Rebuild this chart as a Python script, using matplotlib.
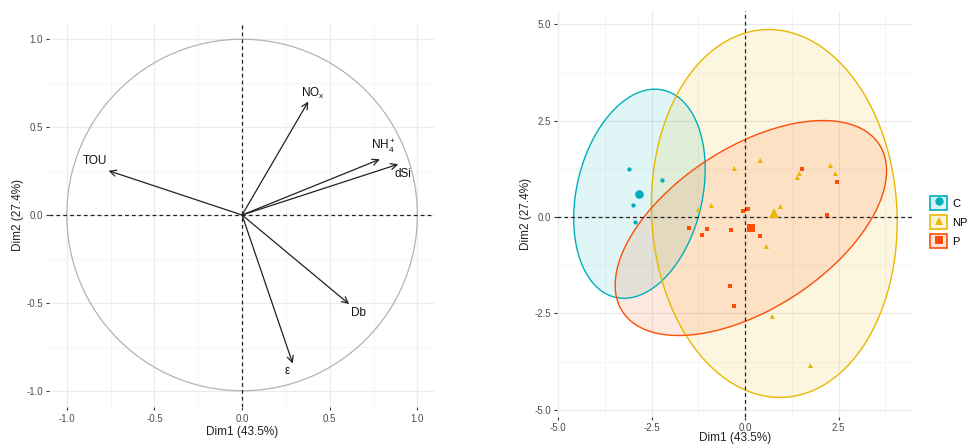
import numpy as np
import matplotlib
matplotlib.use("Agg")
import matplotlib.pyplot as plt
from matplotlib.patches import Polygon, Rectangle, Circle
from matplotlib.lines import Line2D

plt.rcParams['font.family'] = ['Liberation Sans', 'DejaVu Sans']
plt.rcParams['mathtext.default'] = 'regular'

# ---------------- data ----------------
variables = ['TOU', 'NO$_x$', 'NH$_4^+$', 'dSi', 'Db', 'ε']
dim1_load = [-0.762, 0.378, 0.786, 0.891, 0.611, 0.289]
dim2_load = [0.252, 0.646, 0.317, 0.289, -0.507, -0.845]

groups = ['C', 'NP', 'P']
c_x = [-3.11, -2.23, -3.01, -2.95]
c_y = [1.25, 0.97, 0.32, -0.12]
np_x = [0.41, -0.30, 2.26, 2.40, 1.43, 1.39, -0.92, -1.25, 0.92, 0.56, 0.71, 1.74]
np_y = [1.48, 1.28, 1.35, 1.15, 1.15, 1.05, 0.32, 0.22, 0.28, -0.74, -2.58, -3.84]
p_x = [1.53, 2.46, 2.20, 0.07, -0.05, -1.51, -1.02, -1.16, -0.39, 0.40, -0.40, -0.29]
p_y = [1.24, 0.92, 0.06, 0.20, 0.16, -0.28, -0.32, -0.47, -0.34, -0.49, -1.78, -2.31]

xlab = 'Dim1 (43.5%)'
ylab = 'Dim2 (27.4%)'

# ---------------- style ----------------
colors = {'C': '#00AFBB', 'NP': '#E7B800', 'P': '#FC4E07'}
markers = {'C': 'o', 'NP': '^', 'P': 's'}
label_offsets = [(-9.6, 6.8), (3.6, 6.0), (2.9, 9.6), (3.6, -7.4), (7.0, -6.7), (-3.8, -5.5)]
tick_color = '#4D4D4D'
grid_major = '#EBEBEB'
grid_minor = '#F4F4F4'

fig = plt.figure(figsize=(9.72, 4.45), dpi=100)
ax1 = fig.add_axes([0.0507, 0.0847, 0.3958, 0.8643])
ax2 = fig.add_axes([0.5734, 0.0636, 0.3656, 0.9128])


def style_axes(ax, major, minor, xpad):
    for s in ax.spines.values():
        s.set_visible(False)
    ax.set_xticks(major)
    ax.set_yticks(major)
    ax.set_xticks(minor, minor=True)
    ax.set_yticks(minor, minor=True)
    ax.grid(True, which='major', color=grid_major, lw=0.9, zorder=0)
    ax.grid(True, which='minor', color=grid_minor, lw=0.6, zorder=0)
    ax.tick_params(which='major', length=2.5, width=0.8, color='#333333',
                   labelsize=7, labelcolor=tick_color, pad=2)
    ax.tick_params(which='minor', length=0)
    ax.set_axisbelow(True)
    ax.set_xlabel(xlab, fontsize=8.5, color='#222222', labelpad=xpad)
    ax.set_ylabel(ylab, fontsize=8.5, color='#222222', labelpad=2)


# ---------------- left: variable correlation circle ----------------
ax1.set_xlim(-1.1, 1.095)
ax1.set_ylim(-1.094, 1.094)
style_axes(ax1, [-1.0, -0.5, 0.0, 0.5, 1.0], [-0.75, -0.25, 0.25, 0.75], 2)
ax1.xaxis.set_major_formatter(matplotlib.ticker.FormatStrFormatter('%.1f'))
ax1.yaxis.set_major_formatter(matplotlib.ticker.FormatStrFormatter('%.1f'))
ax1.add_patch(Circle((0, 0), 1.0, fill=False, ec='#B3B3B3', lw=0.9, zorder=2))
ax1.axhline(0, color='#222222', ls=(0, (3, 2.5)), lw=0.9, zorder=3)
ax1.axvline(0, color='#222222', ls=(0, (3, 2.5)), lw=0.9, zorder=3)
for name, x, y, off in zip(variables, dim1_load, dim2_load, label_offsets):
    ax1.annotate('', xy=(x, y), xytext=(0, 0),
                 arrowprops=dict(arrowstyle='->,head_length=0.45,head_width=0.22',
                                 color='#222222', lw=0.9, shrinkA=0, shrinkB=0),
                 zorder=4)
    ax1.annotate(name, xy=(x, y), xytext=off, textcoords='offset points',
                 ha='center', va='center', fontsize=8.5, color='#111111', zorder=5)

# ---------------- right: individuals with ellipses ----------------
ax2.set_xlim(-5.02, 4.48)
ax2.set_ylim(-5.18, 5.36)
style_axes(ax2, [-5.0, -2.5, 0.0, 2.5], [-3.75, -1.25, 1.25, 3.75], -0.5)
ax2.set_yticks([-5.0, -2.5, 0.0, 2.5, 5.0])
ax2.xaxis.set_major_formatter(matplotlib.ticker.FormatStrFormatter('%.1f'))
ax2.yaxis.set_major_formatter(matplotlib.ticker.FormatStrFormatter('%.1f'))

group_data = {'C': (c_x, c_y), 'NP': (np_x, np_y), 'P': (p_x, p_y)}
level = 0.95
theta = np.linspace(0, 2 * np.pi, 121)
unit = np.vstack([np.cos(theta), np.sin(theta)])

for g in groups:
    xs, ys = np.array(group_data[g][0]), np.array(group_data[g][1])
    n = len(xs)
    d2 = n - 1
    fq = (d2 / 2.0) * ((1 - level) ** (-2.0 / d2) - 1)  # F(2, n-1) quantile
    radius = np.sqrt(2 * fq)
    cov = np.cov(np.vstack([xs, ys]))
    L = np.linalg.cholesky(cov)
    pts = np.array([xs.mean(), ys.mean()])[:, None] + radius * (L @ unit)
    ax2.add_patch(Polygon(pts.T, closed=True, fc=colors[g], alpha=0.12, ec='none', zorder=1))
    ax2.add_patch(Polygon(pts.T, closed=True, fill=False, ec=colors[g], lw=1.0, zorder=2))

ax2.axhline(0, color='#222222', ls=(0, (3, 2.5)), lw=0.9, zorder=3)
ax2.axvline(0, color='#222222', ls=(0, (3, 2.5)), lw=0.9, zorder=3)

for g in groups:
    xs, ys = np.array(group_data[g][0]), np.array(group_data[g][1])
    ms = 3.6 if g == 'NP' else 3.1
    ax2.plot(xs, ys, ls='none', marker=markers[g], color=colors[g], ms=ms, mew=0, zorder=4)
    ax2.plot([xs.mean()], [ys.mean()], ls='none', marker=markers[g], color=colors[g],
             ms=ms * 2.0, mew=0, zorder=5)

handles = []
for g in groups:
    box = Rectangle((0, 0), 1, 1, fc=matplotlib.colors.to_rgba(colors[g], 0.15),
                    ec=colors[g], lw=1.2)
    mk = Line2D([], [], ls='none', marker=markers[g], color=colors[g], ms=6, mew=0)
    handles.append((box, mk))
leg = ax2.legend(handles, groups, loc='center left', bbox_to_anchor=(1.037, 0.479),
                 frameon=False, fontsize=8, handlelength=1.5, handleheight=1.5,
                 handletextpad=0.45, labelspacing=0.5, borderaxespad=0)

fig.savefig('out.png', dpi=100)
